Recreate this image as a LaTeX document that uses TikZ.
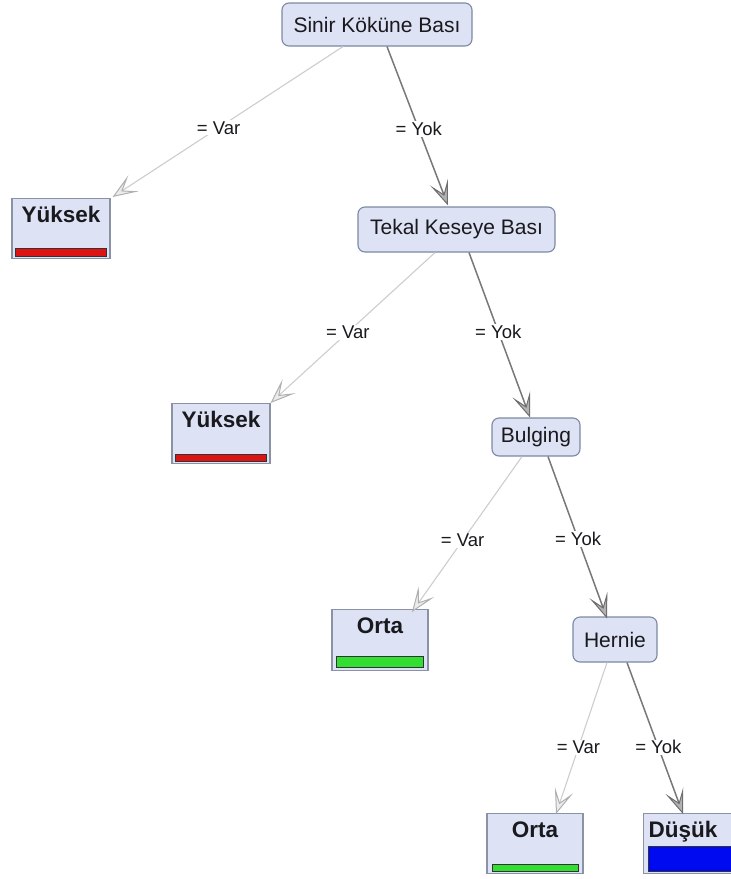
\documentclass[tikz,border=0pt]{standalone}
\usepackage{fontspec}
\setmainfont{Liberation Sans}
\usetikzlibrary{arrows.meta,calc}

\definecolor{boxfill}{RGB}{221,226,244}
\definecolor{boxline}{RGB}{125,136,165}
\definecolor{leafline}{RGB}{140,146,166}
\definecolor{txt}{RGB}{25,25,30}
\definecolor{edgeyes}{RGB}{205,205,205}
\definecolor{edgeno}{RGB}{120,120,120}
\definecolor{tipyes}{RGB}{175,175,175}
\definecolor{tipno}{RGB}{110,110,110}
\definecolor{barred}{RGB}{220,20,20}
\definecolor{bargreen}{RGB}{50,222,50}
\definecolor{barblue}{RGB}{0,10,240}

\tikzset{
  test/.style={draw=boxline, line width=1.1pt, fill=boxfill, rounded corners=7pt,
    text=txt, font=\fontsize{21}{25}\selectfont, inner sep=0pt},
  leaf/.style={draw=leafline, line width=1.1pt, fill=boxfill, anchor=north,
    text=txt, font=\bfseries\fontsize{22.5}{26}\selectfont, inner xsep=0pt, inner ysep=0pt,
    text height=24pt},
  lbl/.style={fill=white, text=txt, font=\fontsize{18.5}{22}\selectfont, inner sep=1pt},
  yesedge/.style={draw=edgeyes, line width=1.1pt,
    -{Stealth[length=25pt,width=19pt,inset=13pt,fill=gray!15,color=tipyes,line width=1pt]}},
  noedge/.style={draw=edgeno, line width=1.5pt,
    -{Stealth[length=25pt,width=19pt,inset=13pt,fill=gray!60,color=tipno,line width=1pt]}},
  barbox/.style={draw=black!80, line width=0.9pt}
}

\begin{document}
\begin{tikzpicture}[x=1pt,y=-1pt]
  \useasboundingbox (0,0) rectangle (731,879);
  \clip (0,0) rectangle (731,879);

  % tests
  \node[test, minimum width=190pt, minimum height=43pt] (root) at (377,24.5) {Sinir Köküne Bası};
  \node[test, minimum width=197pt, minimum height=45pt] (tekal) at (456.5,229.5) {Tekal Keseye Bası};
  \node[test, minimum width=88pt, minimum height=38pt] (bulg) at (536,437) {Bulging};
  \node[test, minimum width=84pt, minimum height=45pt] (hern) at (615,639.5) {Hernie};

  % leaves
  \node[leaf, minimum width=98pt, text depth=36pt] (y1) at (61,198) {Yüksek};
  \node[leaf, minimum width=98pt, text depth=36pt] (y2) at (221,403) {Yüksek};
  \node[leaf, minimum width=96pt, text depth=37pt] (o1) at (380,609) {Orta};
  \node[leaf, minimum width=96pt, text depth=36pt] (o2) at (535,813) {Orta};
  \node[leaf, anchor=north west, inner xsep=5pt, text depth=36pt] (d1) at (643,813)
    {\makebox[87pt][l]{Düşük}};

  % class bars
  \draw[barbox, fill=barred]   ($(y1.south west)+(4,-3)$) rectangle ($(y1.south east)+(-4,-11)$);
  \draw[barbox, fill=barred]   ($(y2.south west)+(4,-3)$) rectangle ($(y2.south east)+(-4,-10)$);
  \draw[barbox, fill=bargreen] ($(o1.south west)+(5,-4)$) rectangle ($(o1.south east)+(-5,-15)$);
  \draw[barbox, fill=bargreen] ($(o2.south west)+(6,-3)$) rectangle ($(o2.south east)+(-5,-10)$);
  \draw[barbox, fill=barblue]  ($(d1.south west)+(5,-3)$) rectangle ($(d1.south east)+(-5,-28)$);

  % tip points on the leaves and tests
  \coordinate (t1) at ($(y1.north east)+(2,-1)$);
  \coordinate (t2) at ($(tekal.north)+(-8.5,-1)$);
  \coordinate (t3) at ($(y2.north east)+(0,0)$);
  \coordinate (t4) at ($(bulg.north)+(-6,0)$);
  \coordinate (t5) at ($(o1.north)+(32,3)$);
  \coordinate (t6) at ($(hern.north)+(-8,2)$);
  \coordinate (t7) at ($(o2.north)+(21,1)$);
  \coordinate (t8) at ($(d1.north west)+(40,1)$);

  % branches
  \draw[yesedge] ($(root.south)+(-34,0)$) -- node[lbl, pos=0.54] {= Var} (t1);
  \draw[noedge]  ($(root.south)+(10,0)$)  -- node[lbl, pos=0.52] {= Yok} (t2);
  \draw[yesedge] ($(tekal.south)+(-21.5,0)$) -- node[lbl, pos=0.53] {= Var} (t3);
  \draw[noedge]  ($(tekal.south)+(12.5,0)$)  -- node[lbl, pos=0.48] {= Yok} (t4);
  \draw[yesedge] ($(bulg.south)+(-14,0)$) -- node[lbl, pos=0.54] {= Var} (t5);
  \draw[noedge]  ($(bulg.south)+(12,0)$)  -- node[lbl, pos=0.51] {= Yok} (t6);
  \draw[yesedge] ($(hern.south)+(-8,0)$) -- node[lbl, pos=0.56] {= Var} (t7);
  \draw[noedge]  ($(hern.south)+(12,0)$) -- node[lbl, pos=0.56] {= Yok} (t8);
\end{tikzpicture}
\end{document}
